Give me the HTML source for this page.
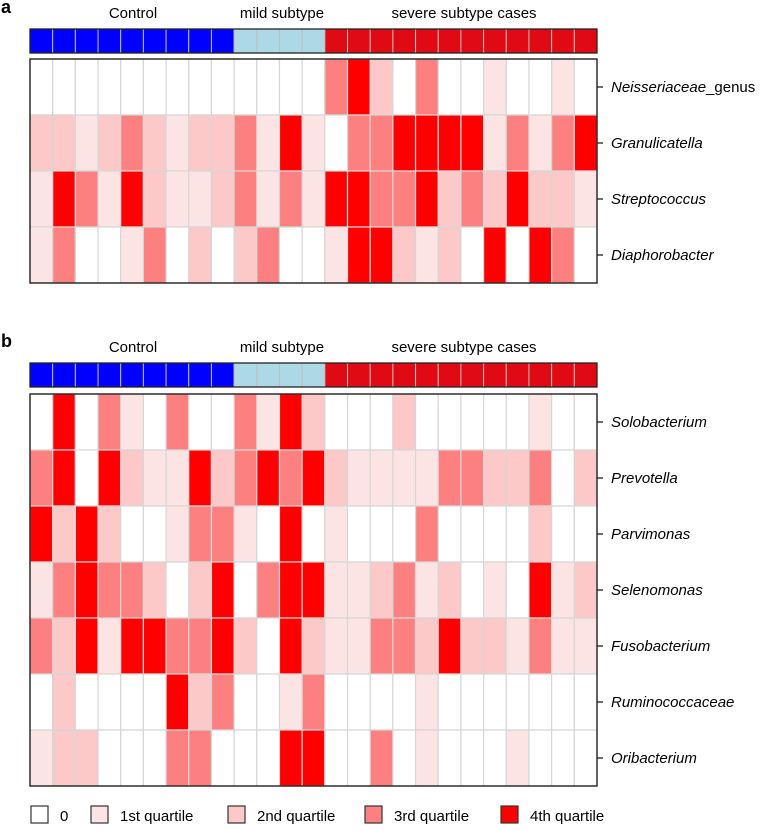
<!DOCTYPE html>
<html><head><meta charset="utf-8"><style>
body{margin:0;background:#fff;}
svg text{font-family:"Liberation Sans",Arial,sans-serif;}
</style></head><body>
<svg id="chart" width="772" height="826" xmlns="http://www.w3.org/2000/svg"></svg>
<script>
const groups = [0,0,0,0,0,0,0,0,0,1,1,1,1,2,2,2,2,2,2,2,2,2,2,2,2];
const groupNames = ["Control","mild subtype","severe subtype cases"];
const taxaA = ["Neisseriaceae_genus","Granulicatella","Streptococcus","Diaphorobacter"];
const valuesA = [
[0,0,0,0,0,0,0,0,0,0,0,0,0,3,4,2,0,3,0,0,1,0,0,1,0],
[2,2,1,2,3,2,1,2,2,3,1,4,1,0,3,3,4,4,4,4,1,3,1,3,4],
[1,4,3,1,4,2,1,1,2,3,1,3,1,4,4,3,3,4,2,3,2,4,2,2,1],
[1,3,0,0,1,3,0,2,0,2,3,0,0,1,4,4,2,1,2,0,4,0,4,3,0]];
const taxaB = ["Solobacterium","Prevotella","Parvimonas","Selenomonas","Fusobacterium","Ruminococcaceae","Oribacterium"];
const valuesB = [
[0,4,0,3,1,0,3,0,0,3,1,4,2,0,0,0,2,0,0,0,0,0,1,0,0],
[3,4,0,4,2,1,1,4,2,3,4,3,4,2,1,1,1,1,3,3,2,2,3,0,2],
[4,2,4,2,0,0,1,3,3,1,0,4,0,1,0,0,0,3,0,0,0,0,2,0,0],
[1,3,4,3,3,2,0,2,4,0,3,4,4,1,1,2,3,1,2,0,1,0,4,1,2],
[3,2,4,1,4,4,3,3,4,2,0,4,2,1,1,3,3,2,4,2,2,1,3,1,1],
[0,2,0,0,0,0,4,2,3,0,0,1,3,0,0,0,0,1,0,0,0,0,0,0,0],
[1,2,2,0,0,0,3,3,0,0,0,4,4,0,0,3,0,1,0,0,0,1,0,0,0]];
const legendLabels = ["0","1st quartile","2nd quartile","3rd quartile","4th quartile"];

const levelColors = ["#ffffff","#fde4e4","#fcc8c8","#fd8080","#ff0000"];
const groupColors = ["#0000ff","#add8e6","#e00a14"];
const svg = document.getElementById('chart');
const NS = "http://www.w3.org/2000/svg";
const X0 = 30, X1 = 597, RH = 56;
const cw = (X1-X0)/groups.length;
const xs = i => X0 + i*cw;
function mk(tag, attrs, parent){const e=document.createElementNS(NS,tag);for(const k in attrs)e.setAttribute(k,attrs[k]);(parent||svg).appendChild(e);return e;}

function panel(letter, top, hTop, taxa, values){
  const g = mk('g',{});
  
  
  const lt = mk('text',{x:1,y:top-16,'font-size':18,'font-weight':'bold'},g); lt.textContent=letter;
  
  
  const labelX=[133,282,464];
  groupNames.forEach((n,k)=>{
    const t=mk('text',{x:labelX[k],y:top-11,'font-size':15,'text-anchor':'middle'},g); t.textContent=n;
    
    
  });
  const barH = 24;
  groups.forEach((gr,i)=>{
    const r=mk('rect',{x:xs(i),y:top,width:cw,height:barH,fill:groupColors[gr],stroke:'#bfbfbf','stroke-width':1},g);
    
    
  });
  mk('rect',{x:X0,y:top,width:X1-X0,height:barH,fill:'none',stroke:'#222','stroke-width':1.3},g);
  values.forEach((row,j)=>{
    row.forEach((v,i)=>{
      const r=mk('rect',{x:xs(i),y:hTop+j*RH,width:cw,height:RH,fill:levelColors[v],stroke:'#d6d6d6','stroke-width':1.2},g);
      
      
    });
    const cy=hTop+(j+0.5)*RH;
    mk('line',{x1:X1,x2:X1+6,y1:cy,y2:cy,stroke:'#222','stroke-width':1.3},g);
    const t=mk('text',{x:X1+14,y:cy+5,'font-size':15,'font-style':'italic'},g);
    const name=taxa[j];
    if(name.endsWith('_genus')){ const a=mk('tspan',{},t); a.textContent=name.replace('_genus',''); const b=mk('tspan',{'font-style':'normal'},t); b.textContent='_genus'; }
    else t.textContent=name;
    
    
  });
  mk('rect',{x:X0,y:hTop,width:X1-X0,height:RH*values.length,fill:'none',stroke:'#222','stroke-width':1.4},g);
}
panel('a',29,59,taxaA,valuesA);
panel('b',363,394,taxaB,valuesB);

const legendX=[31,91,228,365,501];
const lg=mk('g',{});


legendLabels.forEach((l,k)=>{
  const x=legendX[k];
  const r=mk('rect',{x:x,y:806,width:17,height:17,fill:levelColors[k],stroke:'#333','stroke-width':1.2},lg);
  
  
  const t=mk('text',{x:x+29,y:821,'font-size':15},lg); t.textContent=l;
  
  
});
</script>
</body></html>
